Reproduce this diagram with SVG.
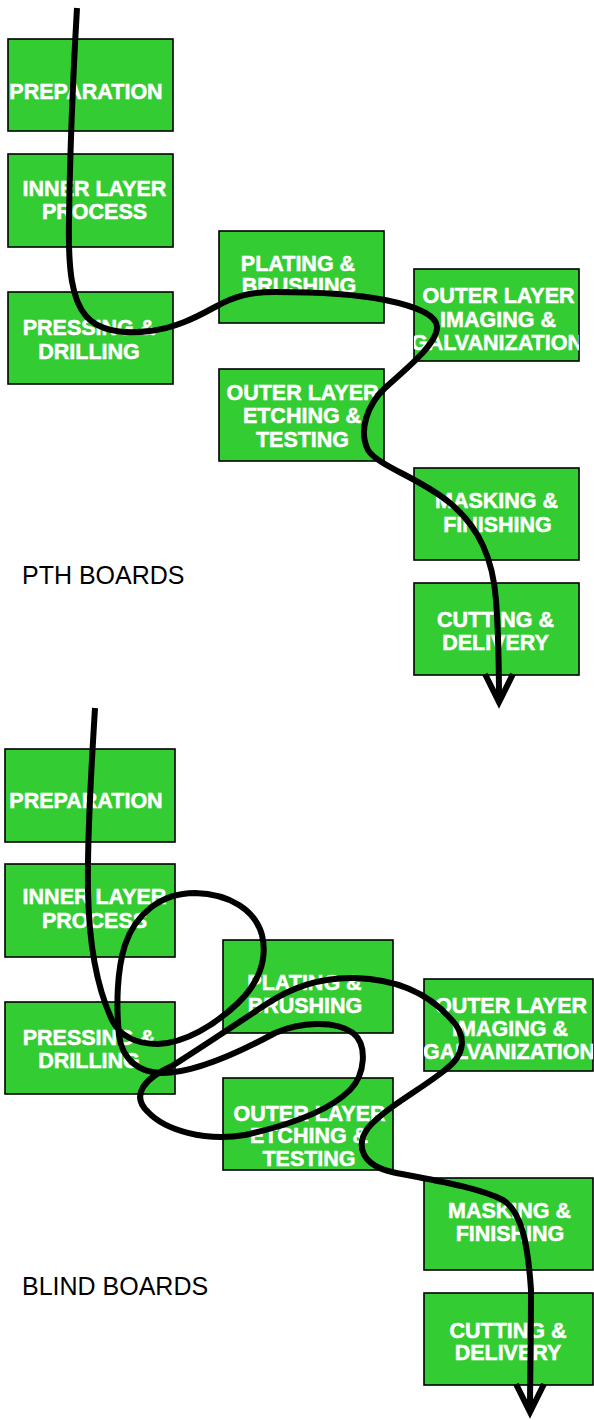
<svg xmlns="http://www.w3.org/2000/svg" width="594" height="1420" viewBox="0 0 594 1420">
<style>
.box{fill:#33cc33;stroke:#000;stroke-width:1.6}
.t{font-family:"Liberation Sans",Arial,sans-serif;font-weight:bold;font-size:21.5px;fill:#fff;stroke:#fff;stroke-width:0.5;text-anchor:middle}
.lbl{font-family:"Liberation Sans",Arial,sans-serif;font-size:25px;fill:#000}
.flow{fill:none;stroke:#000;stroke-width:6;stroke-linecap:butt;stroke-linejoin:round}
</style>
<defs>
<marker id="arrow" markerUnits="userSpaceOnUse" viewBox="-34 -20 42 40" refX="0" refY="0" markerWidth="42" markerHeight="40" orient="auto" overflow="visible">
<path d="M-28,-14 L0,0 L-28,14" fill="none" stroke="#000" stroke-width="6" stroke-linejoin="miter" stroke-miterlimit="10"/>
</marker>
<clipPath id="c1"><rect x="414" y="269" width="165" height="92"/></clipPath>
<clipPath id="c2"><rect x="424" y="979" width="169" height="92"/></clipPath>
</defs>
<rect width="594" height="1420" fill="#fff"/>

<g id="pth-preparation"><rect class="box" x="8" y="39" width="165" height="92"/><text class="t" x="86" y="99">PREPARATION</text></g>
<g id="pth-inner"><rect class="box" x="8" y="154" width="165" height="93"/><text class="t" x="94.5" y="196">INNER LAYER</text><text class="t" x="94.5" y="219">PROCESS</text></g>
<g id="pth-pressing"><rect class="box" x="8" y="292" width="165" height="92"/><text class="t" x="89" y="335">PRESSING &amp;</text><text class="t" x="89" y="359">DRILLING</text></g>
<g id="pth-plating"><rect class="box" x="219" y="231" width="165" height="92"/><text class="t" x="298" y="271">PLATING &amp;</text><text class="t" x="299" y="293">BRUSHING</text></g>
<g id="pth-imaging"><rect class="box" x="414" y="269" width="165" height="92"/><g clip-path="url(#c1)"><text class="t" x="498.5" y="303">OUTER LAYER</text><text class="t" x="498" y="327">IMAGING &amp;</text><text class="t" x="497" y="350">GALVANIZATION</text></g></g>
<g id="pth-etching"><rect class="box" x="219" y="369" width="165" height="92"/><text class="t" x="302.5" y="400">OUTER LAYER</text><text class="t" x="302" y="423">ETCHING &amp;</text><text class="t" x="302.5" y="447">TESTING</text></g>
<g id="pth-masking"><rect class="box" x="414" y="468" width="165" height="92"/><text class="t" x="496.5" y="508">MASKING &amp;</text><text class="t" x="497.5" y="532">FINISHING</text></g>
<g id="pth-cutting"><rect class="box" x="414" y="583" width="165" height="92"/><text class="t" x="495.5" y="627">CUTTING &amp;</text><text class="t" x="495.5" y="650">DELIVERY</text></g>
<text id="pth-label" class="lbl" x="22" y="584">PTH BOARDS</text>

<g id="blind-preparation"><rect class="box" x="5" y="749" width="170" height="93"/><text class="t" x="86" y="808">PREPARATION</text></g>
<g id="blind-inner"><rect class="box" x="5" y="864" width="170" height="93"/><text class="t" x="94.5" y="904">INNER LAYER</text><text class="t" x="94.5" y="928">PROCESS</text></g>
<g id="blind-pressing"><rect class="box" x="5" y="1002" width="170" height="92"/><text class="t" x="89" y="1045">PRESSING &amp;</text><text class="t" x="89" y="1068">DRILLING</text></g>
<g id="blind-plating"><rect class="box" x="223" y="940" width="170" height="93"/><text class="t" x="304.5" y="990">PLATING &amp;</text><text class="t" x="305" y="1013">BRUSHING</text></g>
<g id="blind-imaging"><rect class="box" x="424" y="979" width="169" height="92"/><g clip-path="url(#c2)"><text class="t" x="511" y="1013">OUTER LAYER</text><text class="t" x="510" y="1036">IMAGING &amp;</text><text class="t" x="509" y="1059">GALVANIZATION</text></g></g>
<g id="blind-etching"><rect class="box" x="223" y="1078" width="170" height="92"/><text class="t" x="309.5" y="1121">OUTER LAYER</text><text class="t" x="309" y="1143">ETCHING &amp;</text><text class="t" x="309" y="1166">TESTING</text></g>
<g id="blind-masking"><rect class="box" x="424" y="1178" width="169" height="92"/><text class="t" x="509.5" y="1218">MASKING &amp;</text><text class="t" x="510" y="1241">FINISHING</text></g>
<g id="blind-cutting"><rect class="box" x="424" y="1293" width="169" height="92"/><text class="t" x="508" y="1338">CUTTING &amp;</text><text class="t" x="508" y="1360">DELIVERY</text></g>
<text id="blind-label" class="lbl" x="22" y="1295">BLIND BOARDS</text>

<g id="connectors">
<path class="flow" marker-end="url(#arrow)" d="M77,8 C74,60 70,150 69,220 C68,270 72,300 86,316 C100,332 125,334 150,331 C175,328 195,318 215,307 C235,296 250,292 275,292 C310,292 350,293 385,300 C415,306 438,315 437,328 C436,345 405,370 385,388 C368,404 358,430 368,450 C378,466 420,478 450,503 C480,528 493,560 496,600 C499,640 499,670 499,702"/>
<path class="flow" marker-end="url(#arrow)" d="M95,708 C92,760 87,830 88,890 C89,950 98,990 112,1020 C120,1036 135,1044 158,1044 C185,1043 215,1025 238,1003 C258,984 268,960 262,935 C255,910 230,894 195,893 C160,893 135,915 125,945 C117,970 116,1005 119,1035 C122,1060 140,1073 162,1073 C195,1073 240,1052 275,1033 C300,1022 335,1020 353,1033 C368,1045 365,1075 350,1090 C330,1110 290,1125 245,1135 C205,1142 165,1130 148,1112 C130,1095 145,1078 172,1066 C205,1045 235,1025 265,1005 C290,988 320,977 355,978 C390,979 425,990 450,1018 C468,1036 465,1055 445,1070 C420,1090 385,1108 368,1128 C355,1146 362,1165 392,1172 C425,1179 475,1186 503,1200 C522,1212 528,1245 531,1290 C531,1340 530,1380 530,1412"/>
</g>
</svg>
